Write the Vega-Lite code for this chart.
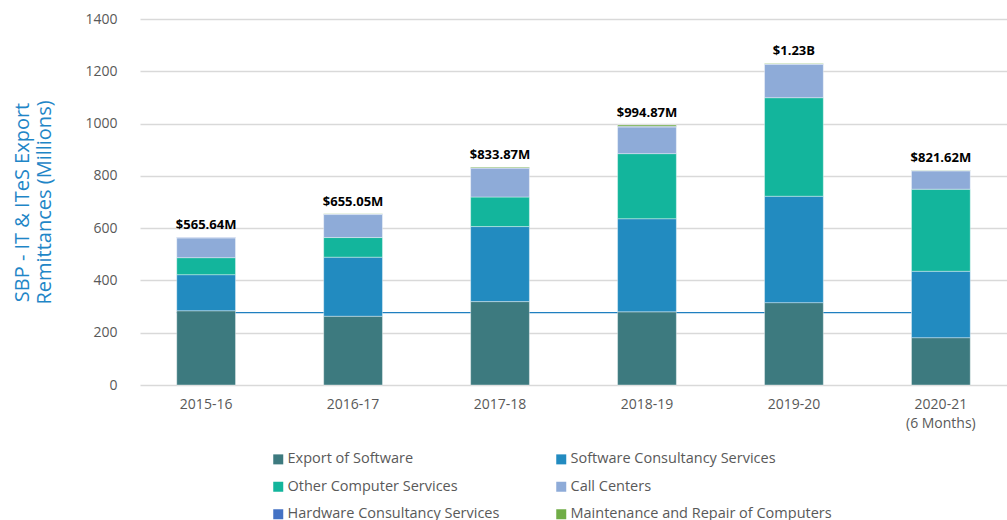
{
  "$schema": "https://vega.github.io/schema/vega-lite/v6.json",
  "width": 867,
  "height": 366,
  "autosize": {"type": "none"},
  "padding": {"left": 140, "top": 19, "right": 0, "bottom": 135},
  "config": {"font": "Open Sans", "view": {"stroke": null}},
  "datasets": {
    "parts": [
      {"year": "2015-16", "category": "Export of Software", "k": 1, "value": 284},
      {"year": "2015-16", "category": "Software Consultancy Services", "k": 2, "value": 138},
      {"year": "2015-16", "category": "Other Computer Services", "k": 3, "value": 65},
      {"year": "2015-16", "category": "Call Centers", "k": 4, "value": 75.5},
      {"year": "2015-16", "category": "Hardware Consultancy Services", "k": 5, "value": 2.3},
      {"year": "2015-16", "category": "Maintenance and Repair of Computers", "k": 6, "value": 0.84},
      {"year": "2016-17", "category": "Export of Software", "k": 1, "value": 263},
      {"year": "2016-17", "category": "Software Consultancy Services", "k": 2, "value": 226},
      {"year": "2016-17", "category": "Other Computer Services", "k": 3, "value": 75},
      {"year": "2016-17", "category": "Call Centers", "k": 4, "value": 88},
      {"year": "2016-17", "category": "Hardware Consultancy Services", "k": 5, "value": 2},
      {"year": "2016-17", "category": "Maintenance and Repair of Computers", "k": 6, "value": 1.05},
      {"year": "2017-18", "category": "Export of Software", "k": 1, "value": 319},
      {"year": "2017-18", "category": "Software Consultancy Services", "k": 2, "value": 287},
      {"year": "2017-18", "category": "Other Computer Services", "k": 3, "value": 113},
      {"year": "2017-18", "category": "Call Centers", "k": 4, "value": 109},
      {"year": "2017-18", "category": "Hardware Consultancy Services", "k": 5, "value": 3},
      {"year": "2017-18", "category": "Maintenance and Repair of Computers", "k": 6, "value": 2.87},
      {"year": "2018-19", "category": "Export of Software", "k": 1, "value": 280},
      {"year": "2018-19", "category": "Software Consultancy Services", "k": 2, "value": 356},
      {"year": "2018-19", "category": "Other Computer Services", "k": 3, "value": 249},
      {"year": "2018-19", "category": "Call Centers", "k": 4, "value": 102},
      {"year": "2018-19", "category": "Hardware Consultancy Services", "k": 5, "value": 2.5},
      {"year": "2018-19", "category": "Maintenance and Repair of Computers", "k": 6, "value": 5.37},
      {"year": "2019-20", "category": "Export of Software", "k": 1, "value": 315},
      {"year": "2019-20", "category": "Software Consultancy Services", "k": 2, "value": 407},
      {"year": "2019-20", "category": "Other Computer Services", "k": 3, "value": 377},
      {"year": "2019-20", "category": "Call Centers", "k": 4, "value": 128},
      {"year": "2019-20", "category": "Hardware Consultancy Services", "k": 5, "value": 1},
      {"year": "2019-20", "category": "Maintenance and Repair of Computers", "k": 6, "value": 2},
      {"year": "2020-21", "category": "Export of Software", "k": 1, "value": 181},
      {"year": "2020-21", "category": "Software Consultancy Services", "k": 2, "value": 254},
      {"year": "2020-21", "category": "Other Computer Services", "k": 3, "value": 314},
      {"year": "2020-21", "category": "Call Centers", "k": 4, "value": 70},
      {"year": "2020-21", "category": "Hardware Consultancy Services", "k": 5, "value": 1.5},
      {"year": "2020-21", "category": "Maintenance and Repair of Computers", "k": 6, "value": 1.12}
    ],
    "totals": [
      {"year": "2015-16", "total": 565.64, "label": "$565.64M"},
      {"year": "2016-17", "total": 655.05, "label": "$655.05M"},
      {"year": "2017-18", "total": 833.87, "label": "$833.87M"},
      {"year": "2018-19", "total": 994.87, "label": "$994.87M"},
      {"year": "2019-20", "total": 1230, "label": "$1.23B"},
      {"year": "2020-21", "total": 821.62, "label": "$821.62M"}
    ],
    "avg": [
      {"year": "2015-16", "avg": 277},
      {"year": "2016-17", "avg": 277},
      {"year": "2017-18", "avg": 277},
      {"year": "2018-19", "avg": 277},
      {"year": "2019-20", "avg": 277},
      {"year": "2020-21", "avg": 277}
    ]
  },
  "encoding": {
    "x": {
      "field": "year",
      "type": "nominal",
      "sort": null,
      "scale": {"paddingInner": 0.6, "paddingOuter": 0.25},
      "axis": {
        "title": null,
        "labelAngle": 0,
        "domain": false,
        "ticks": false,
        "labelFontSize": 14,
        "labelColor": "#595959",
        "labelPadding": 12,
        "labelLineHeight": 19,
        "labelExpr": "datum.value == '2020-21' ? ['2020-21', '(6 Months)'] : datum.label"
      }
    }
  },
  "layer": [
    {
      "data": {"name": "avg"},
      "mark": {"type": "line", "color": "#1f7fc0", "strokeWidth": 1.2},
      "encoding": {
        "x": {"field": "year", "type": "nominal", "sort": null, "bandPosition": 0},
        "y": {"field": "avg", "type": "quantitative"}
      }
    },
    {
      "data": {"name": "parts"},
      "mark": {"type": "bar", "stroke": "#ffffff", "strokeOpacity": 0.5, "strokeWidth": 0.75},
      "encoding": {
        "y": {
          "field": "value",
          "type": "quantitative",
          "stack": "zero",
          "scale": {"domain": [0, 1400]},
          "axis": {
            "values": [0, 200, 400, 600, 800, 1000, 1200, 1400],
            "format": "d",
            "domain": false,
            "ticks": false,
            "gridColor": "#d9d9d9",
            "gridWidth": 1.3,
            "labelFontSize": 14,
            "labelColor": "#595959",
            "labelPadding": 23,
            "title": ["SBP - IT & ITeS Export", "Remittances (Millions)"],
            "titleColor": "#1f86c7",
            "titleFontSize": 20,
            "titleFontWeight": "normal",
            "titleLineHeight": 22,
            "titlePadding": 30
          }
        },
        "order": {"field": "k", "type": "quantitative"},
        "color": {
          "field": "category",
          "type": "nominal",
          "scale": {
            "domain": ["Export of Software", "Software Consultancy Services", "Other Computer Services", "Call Centers", "Hardware Consultancy Services", "Maintenance and Repair of Computers"],
            "range": ["#3d7a7f", "#228bc0", "#13b59c", "#8eabd8", "#4472c4", "#70ad47"]
          },
          "legend": {
            "title": null,
            "orient": "none",
            "direction": "horizontal",
            "legendX": 131,
            "legendY": 433,
            "columns": 2,
            "symbolType": "square",
            "symbolSize": 100,
            "symbolStrokeWidth": 0,
            "labelFontSize": 14.5,
            "labelOffset": 2,
            "labelColor": "#595959",
            "labelLimit": 400,
            "rowPadding": 12.5,
            "columnPadding": 54
          }
        }
      }
    },
    {
      "data": {"name": "totals"},
      "mark": {"type": "text", "fontWeight": "bold", "fontSize": 13, "color": "#000000", "baseline": "alphabetic", "dy": -8},
      "encoding": {
        "y": {"field": "total", "type": "quantitative"},
        "text": {"field": "label"}
      }
    }
  ]
}
